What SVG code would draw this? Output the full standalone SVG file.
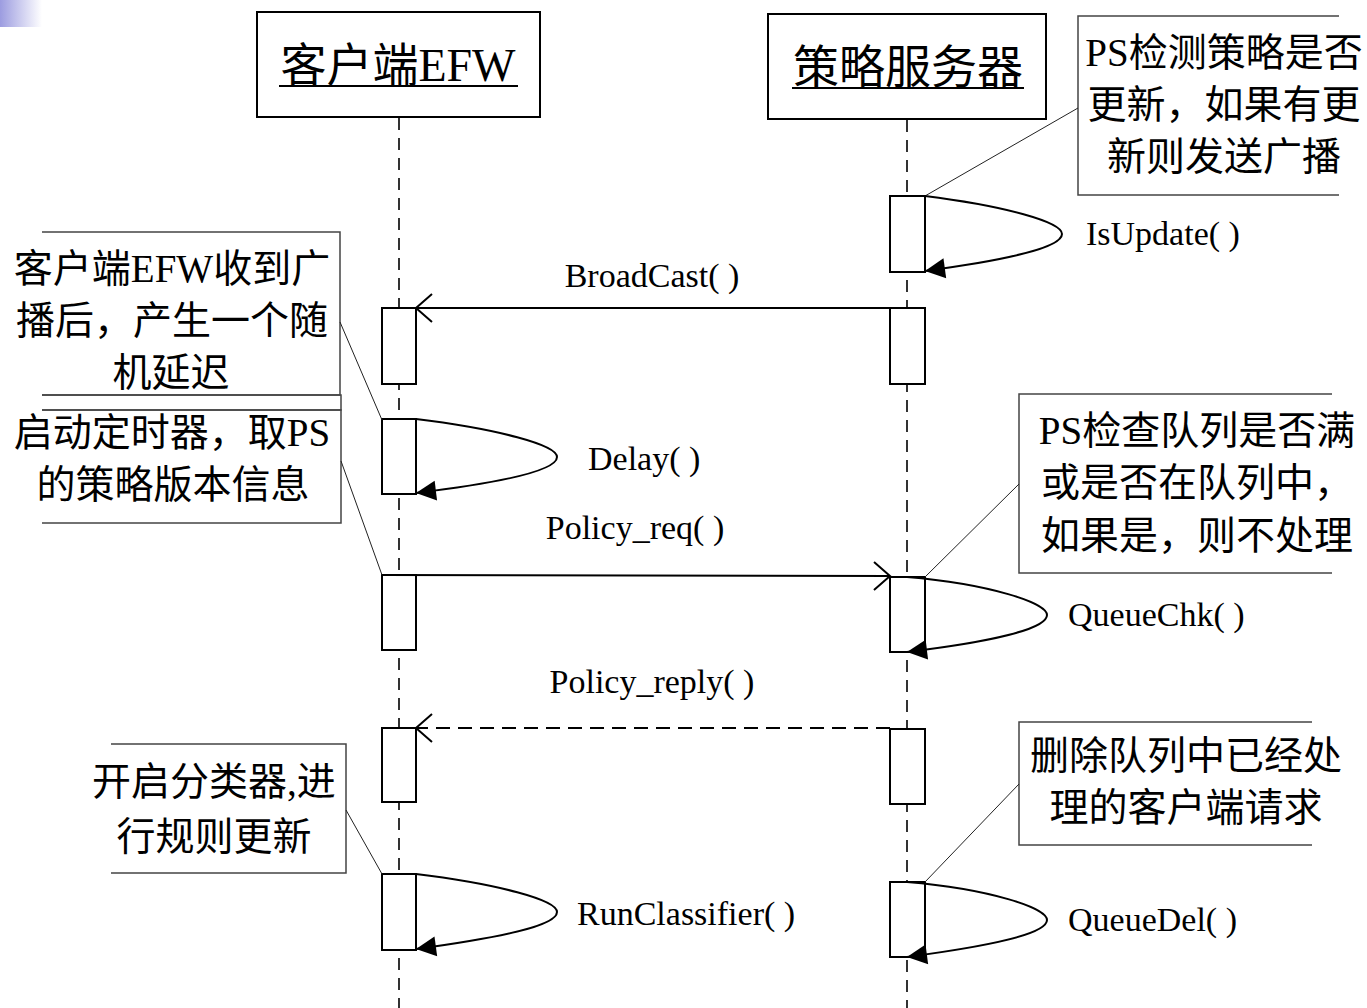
<svg xmlns="http://www.w3.org/2000/svg" width="1367" height="1008" viewBox="0 0 1367 1008">
<defs>
<linearGradient id="corner" x1="0" y1="0" x2="1" y2="0">
<stop offset="0" stop-color="#9c9ce0"/>
<stop offset="1" stop-color="#ffffff"/>
</linearGradient>
<marker id="filled" viewBox="-22 -12 24 24" refX="0" refY="0" markerWidth="24" markerHeight="24" markerUnits="userSpaceOnUse" orient="auto">
<path d="M0,0 L-20,-10 L-20,10 Z" fill="#000"/>
</marker>
<marker id="open" viewBox="-19 -17 21 34" refX="0" refY="0" markerWidth="21" markerHeight="34" markerUnits="userSpaceOnUse" orient="auto">
<path d="M-16,-14 L0,0 L-16,14" fill="none" stroke="#000" stroke-width="2"/>
</marker>
</defs>
<style>
.hdr{fill:#fff;stroke:#000;stroke-width:2}
.htxt{font-family:"Liberation Serif","Noto Sans CJK SC",serif;font-size:46px;fill:#000}
.life{stroke:#000;stroke-width:1.6;stroke-dasharray:12 8;fill:none}
.act{fill:#fff;stroke:#000;stroke-width:2}
.note{fill:none;stroke:#444;stroke-width:1.5}
.ntxt{font-family:"Liberation Serif","Noto Sans CJK SC",serif;font-size:39px;fill:#000}
.mtxt{font-family:"Liberation Serif",serif;font-size:34px;fill:#000}
.lead{stroke:#222;stroke-width:1;fill:none}
.msg{stroke:#000;stroke-width:2;fill:none}
.loop{stroke:#000;stroke-width:2;fill:none}
</style>
<rect x="0" y="0" width="42" height="27" fill="url(#corner)"/>

<g id="lifelines">
<line class="life" x1="399" y1="118" x2="399" y2="1008"/>
<line class="life" x1="907" y1="120" x2="907" y2="1008"/>
</g>

<g id="client-header">
<rect class="hdr" x="257" y="12" width="283" height="105"/>
<text class="htxt" x="398" y="81" text-anchor="middle">客户端EFW</text>
<line x1="279" y1="86" x2="518" y2="86" stroke="#000" stroke-width="2"/>
</g>
<g id="server-header">
<rect class="hdr" x="768" y="14" width="278" height="105"/>
<text class="htxt" x="908" y="83" text-anchor="middle">策略服务器</text>
<line x1="792" y1="88" x2="1024" y2="88" stroke="#000" stroke-width="2"/>
</g>

<g id="activations">
<rect class="act" x="890" y="196" width="35" height="76"/>
<rect class="act" x="382" y="308" width="34" height="76"/>
<rect class="act" x="890" y="308" width="35" height="76"/>
<rect class="act" x="382" y="419" width="34" height="75"/>
<rect class="act" x="382" y="575" width="34" height="75"/>
<rect class="act" x="890" y="577" width="35" height="75"/>
<rect class="act" x="382" y="728" width="34" height="74"/>
<rect class="act" x="890" y="729" width="35" height="75"/>
<rect class="act" x="382" y="874" width="34" height="76"/>
<rect class="act" x="890" y="882" width="35" height="75"/>
</g>

<g id="note-isupdate">
<polyline class="note" points="1339,16 1078,16 1078,195 1339,195"/>
<text class="ntxt" text-anchor="middle"><tspan x="1224" y="66">PS检测策略是否</tspan><tspan x="1224" y="118">更新，如果有更</tspan><tspan x="1224" y="170">新则发送广播</tspan></text>
</g>
<g id="note-delay">
<polyline class="note" points="42,232 340,232 340,395 42,395"/>
<text class="ntxt" text-anchor="middle"><tspan x="172" y="282">客户端EFW收到广</tspan><tspan x="172" y="334">播后，产生一个随</tspan><tspan x="171" y="386">机延迟</tspan></text>
</g>
<g id="note-strip">
<polyline class="note" points="42,395 341,395 341,410 42,410"/>
</g>
<g id="note-policyreq">
<polyline class="note" points="42,410 341,410 341,523 42,523"/>
<text class="ntxt" text-anchor="middle"><tspan x="172" y="446">启动定时器，取PS</tspan><tspan x="173" y="498">的策略版本信息</tspan></text>
</g>
<g id="note-queuechk">
<polyline class="note" points="1332,394 1019,394 1019,573 1332,573"/>
<text class="ntxt" text-anchor="middle"><tspan x="1197" y="444">PS检查队列是否满</tspan><tspan x="1197" y="496">或是否在队列中，</tspan><tspan x="1197" y="549">如果是，则不处理</tspan></text>
</g>
<g id="note-classifier">
<polyline class="note" points="111,744 346,744 346,873 111,873"/>
<text class="ntxt" text-anchor="middle"><tspan x="214" y="795">开启分类器,进</tspan><tspan x="214" y="850">行规则更新</tspan></text>
</g>
<g id="note-queuedel">
<polyline class="note" points="1312,722 1019,722 1019,845 1312,845"/>
<text class="ntxt" text-anchor="middle"><tspan x="1186" y="769">删除队列中已经处</tspan><tspan x="1186" y="821">理的客户端请求</tspan></text>
</g>

<g id="connectors">
<line class="lead" x1="1078" y1="108" x2="925" y2="196"/>
<line class="lead" x1="340" y1="322" x2="382" y2="420"/>
<line class="lead" x1="341" y1="461" x2="382" y2="575"/>
<line class="lead" x1="1019" y1="484" x2="925" y2="577"/>
<line class="lead" x1="346" y1="810" x2="382" y2="874"/>
<line class="lead" x1="1019" y1="784" x2="925" y2="882"/>

<path class="loop" d="M925,196 C1005,206 1062,222 1062,234 C1062,248 1005,260 925,271" marker-end="url(#filled)"/>
<line class="msg" x1="890" y1="308" x2="416" y2="308" marker-end="url(#open)"/>
<path class="loop" d="M416,419 C498,429 557,445 557,457 C557,471 498,483 416,493" marker-end="url(#filled)"/>
<line class="msg" x1="382" y1="575" x2="890" y2="576" marker-end="url(#open)"/>
<path class="loop" d="M907,577 C990,584 1047,603 1047,615 C1047,629 990,642 907,652" marker-end="url(#filled)"/>
<line class="msg" x1="890" y1="728" x2="416" y2="728" stroke-dasharray="14 8" marker-end="url(#open)"/>
<path class="loop" d="M416,874 C498,884 557,900 557,912 C557,926 498,938 416,949" marker-end="url(#filled)"/>
<path class="loop" d="M907,882 C990,889 1047,908 1047,920 C1047,934 990,946 907,957" marker-end="url(#filled)"/>
</g>

<g id="labels">
<text class="mtxt" x="1086" y="245">IsUpdate( )</text>
<text class="mtxt" x="652" y="287" text-anchor="middle">BroadCast( )</text>
<text class="mtxt" x="588" y="470">Delay( )</text>
<text class="mtxt" x="635" y="539" text-anchor="middle">Policy_req( )</text>
<text class="mtxt" x="1068" y="626">QueueChk( )</text>
<text class="mtxt" x="652" y="693" text-anchor="middle">Policy_reply( )</text>
<text class="mtxt" x="577" y="925">RunClassifier( )</text>
<text class="mtxt" x="1068" y="931">QueueDel( )</text>
</g>
</svg>
